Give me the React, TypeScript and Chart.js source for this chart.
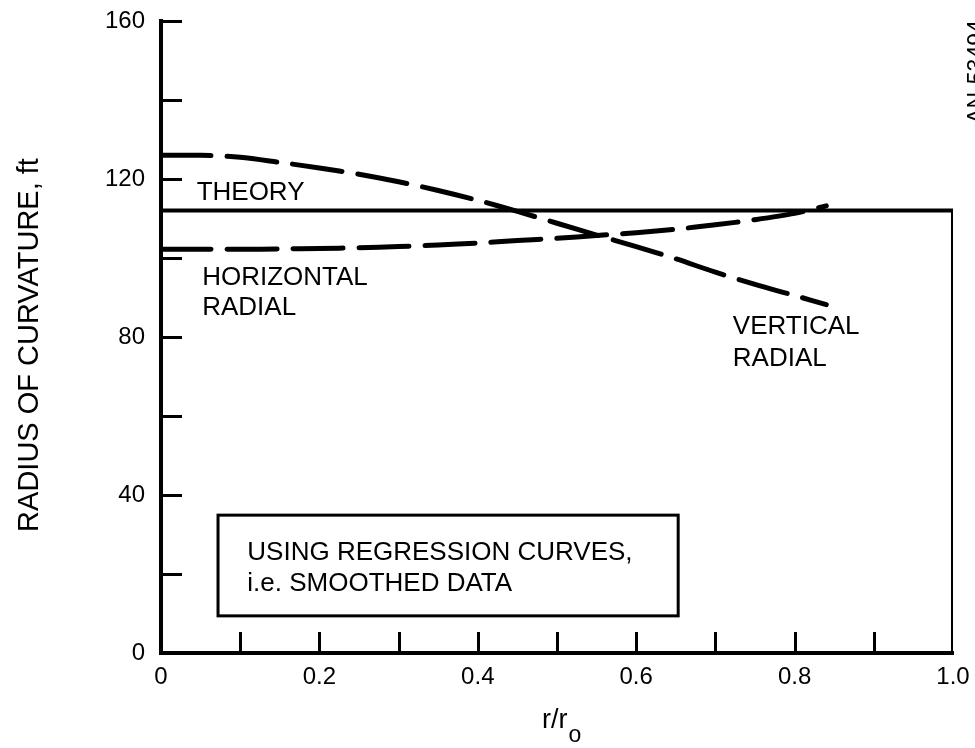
import React, { useEffect, useRef } from 'react';
import { Chart, registerables } from 'chart.js';

Chart.register(...registerables);

// ---- data ----
const rRatio = [0, 0.05, 0.1, 0.15, 0.2, 0.25, 0.3, 0.35, 0.4, 0.45, 0.5, 0.55, 0.6, 0.65, 0.7, 0.75, 0.8, 0.84];
const verticalRadial = [126, 126, 125.5, 124.2, 122.8, 121.2, 119.3, 117.1, 114.6, 111.8, 108.8, 105.8, 102.9, 99.8, 96.4, 93.3, 90.5, 88.2];
const horizontalRadial = [102.2, 102.2, 102.2, 102.3, 102.4, 102.6, 102.9, 103.3, 103.8, 104.4, 105.0, 105.7, 106.4, 107.3, 108.4, 109.7, 111.3, 113.2];
const theoryX = [0, 1, 1];
const theoryY = [112, 112, 0];

const yTickValues = [20, 40, 60, 80, 100, 120, 140, 160];
const xTickValues = [0.1, 0.2, 0.3, 0.4, 0.5, 0.6, 0.7, 0.8, 0.9];
const yTickLabels: Record<number, string> = { 0: '0', 40: '40', 80: '80', 120: '120', 160: '160' };
const xTickLabels: Record<number, string> = { 0: '0', 2: '0.2', 4: '0.4', 6: '0.6', 8: '0.8', 10: '1.0' };

const curveLabels = [
  { text: 'THEORY', x: 0.045, y: 116.6 },
  { text: 'HORIZONTAL', x: 0.052, y: 95.1 },
  { text: 'RADIAL', x: 0.052, y: 87.5 },
  { text: 'VERTICAL', x: 0.722, y: 82.5 },
  { text: 'RADIAL', x: 0.722, y: 74.6 },
];
const noteLines = ['USING REGRESSION CURVES,', 'i.e. SMOOTHED DATA'];
const noteBox = { x0: 0.072, x1: 0.653, y0: 9.4, y1: 34.9, textX: 0.109, lineY: [25.4, 17.4] };

const FONT = '"Liberation Sans", Arial, Helvetica, sans-serif';
const WEIGHT = 'normal';

const toPoints = (xs: number[], ys: number[]) => xs.map((x, i) => ({ x, y: ys[i] }));

const overlayPlugin = {
  id: 'overlay',
  afterDraw(chart: any) {
    const { ctx, scales } = chart;
    const x = scales.x;
    const y = scales.y;
    const left = x.getPixelForValue(0);
    const bottom = y.getPixelForValue(0);
    ctx.save();
    ctx.strokeStyle = '#000';
    ctx.fillStyle = '#000';

    // inward tick marks
    ctx.lineWidth = 3;
    ctx.lineCap = 'butt';
    yTickValues.forEach((v) => {
      const py = Math.round(y.getPixelForValue(v)) + 0.5;
      ctx.beginPath();
      ctx.moveTo(left, py);
      ctx.lineTo(left + 21, py);
      ctx.stroke();
    });
    xTickValues.forEach((v) => {
      const px = Math.round(x.getPixelForValue(v)) + 0.5;
      ctx.beginPath();
      ctx.moveTo(px, bottom);
      ctx.lineTo(px, bottom - 21);
      ctx.stroke();
    });

    // curve labels
    ctx.font = `${WEIGHT} 26px ${FONT}`;
    ctx.textAlign = 'left';
    ctx.textBaseline = 'middle';
    curveLabels.forEach((l) => {
      ctx.fillText(l.text, x.getPixelForValue(l.x), y.getPixelForValue(l.y));
    });

    // note box
    const bx0 = x.getPixelForValue(noteBox.x0);
    const bx1 = x.getPixelForValue(noteBox.x1);
    const by0 = y.getPixelForValue(noteBox.y1);
    const by1 = y.getPixelForValue(noteBox.y0);
    ctx.lineWidth = 3;
    ctx.strokeRect(bx0, by0, bx1 - bx0, by1 - by0);
    noteLines.forEach((t, i) => {
      ctx.fillText(t, x.getPixelForValue(noteBox.textX), y.getPixelForValue(noteBox.lineY[i]));
    });

    // x axis title r/r_o
    ctx.textBaseline = 'alphabetic';
    ctx.font = `${WEIGHT} 27px ${FONT}`;
    const main = 'r/r';
    const tx = 542;
    ctx.fillText(main, tx, 728);
    const w = ctx.measureText(main).width;
    ctx.font = `${WEIGHT} 23px ${FONT}`;
    ctx.fillText('o', tx + w + 1, 742);

    // y axis title
    ctx.save();
    ctx.translate(30, 345);
    ctx.rotate(-Math.PI / 2);
    ctx.font = `${WEIGHT} 29px ${FONT}`;
    ctx.textAlign = 'center';
    ctx.textBaseline = 'middle';
    ctx.fillText('RADIUS OF CURVATURE, ft', 0, 0);
    ctx.restore();

    // figure id (clipped at the page edge)
    ctx.save();
    ctx.translate(984, 72);
    ctx.rotate(-Math.PI / 2);
    ctx.font = `${WEIGHT} 23px ${FONT}`;
    ctx.textAlign = 'center';
    ctx.textBaseline = 'alphabetic';
    ctx.fillText('AN-53494', 0, 0);
    ctx.restore();

    ctx.restore();
  },
};

export default function App() {
  const canvasRef = useRef<HTMLCanvasElement>(null);

  useEffect(() => {
    const canvas = canvasRef.current;
    if (!canvas) return;
    const dash = {
      borderColor: '#000',
      borderWidth: 5,
      borderDash: [50, 16],
      borderCapStyle: 'round' as const,
      pointRadius: 0,
      tension: 0.3,
      fill: false,
    };
    const chart = new Chart(canvas, {
      type: 'line',
      data: {
        datasets: [
          {
            label: 'Theory',
            data: toPoints(theoryX, theoryY),
            borderColor: '#000',
            borderWidth: 4,
            pointRadius: 0,
            tension: 0,
            fill: false,
            borderJoinStyle: 'miter',
          },
          { label: 'Vertical radial', data: toPoints(rRatio, verticalRadial), ...dash },
          { label: 'Horizontal radial', data: toPoints(rRatio, horizontalRadial), ...dash },
        ],
      },
      options: {
        responsive: false,
        animation: false,
        devicePixelRatio: 1,
        layout: { padding: { left: 0, right: 22, top: 21, bottom: 0 } },
        plugins: { legend: { display: false }, tooltip: { enabled: false } },
        scales: {
          x: {
            type: 'linear',
            min: 0,
            max: 1,
            afterFit: (s: any) => { s.height = 95; s.paddingLeft = 0; s.paddingRight = 0; },
            grid: { display: false, drawTicks: false },
            border: { display: true, width: 4, color: '#000' },
            ticks: {
              stepSize: 0.1,
              autoSkip: false,
              maxRotation: 0,
              padding: 10,
              color: '#000',
              font: { family: FONT, size: 24, weight: WEIGHT },
              callback: (v: any) => xTickLabels[Math.round(Number(v) * 10)] ?? '',
            },
          },
          y: {
            type: 'linear',
            min: 0,
            max: 160,
            afterFit: (s: any) => { s.width = 161; s.paddingTop = 0; s.paddingBottom = 0; },
            grid: { display: false, drawTicks: false },
            border: { display: true, width: 4, color: '#000' },
            ticks: {
              stepSize: 20,
              autoSkip: false,
              padding: 16,
              color: '#000',
              font: { family: FONT, size: 24, weight: WEIGHT },
              callback: (v: any) => yTickLabels[Number(v)] ?? '',
            },
          },
        },
      },
      plugins: [overlayPlugin],
    });
    return () => chart.destroy();
  }, []);

  return (
    <div style={{ position: 'fixed', left: 0, top: 0, width: 975, height: 748, background: '#fff' }}>
      <canvas ref={canvasRef} width={975} height={748} style={{ display: 'block', width: 975, height: 748 }} />
    </div>
  );
}
